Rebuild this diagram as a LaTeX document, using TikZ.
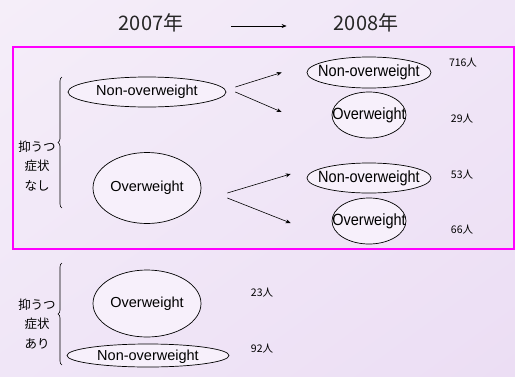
\documentclass[tikz,border=0pt]{standalone}
\usepackage{fontspec}
\setmainfont{Liberation Sans}
\newfontfamily\jpfont{Noto Sans CJK JP}
\usetikzlibrary{shapes.geometric,decorations.pathreplacing,arrows.meta,shadings}
\definecolor{bgA}{RGB}{245,238,249}
\definecolor{bgB}{RGB}{236,222,244}
\definecolor{bgC}{RGB}{240,230,247}
\definecolor{ellfill}{RGB}{247,240,251}
\definecolor{frame}{RGB}{255,0,255}
\tikzset{
  ell/.style={draw=black, line width=0.7pt, fill=ellfill, ellipse, inner sep=0pt},
  etext/.style={font=\fontsize{14.5}{16}\selectfont, inner sep=0pt},
  year/.style={font=\jpfont\fontsize{20}{22}\selectfont, text=black!85, inner sep=0pt},
  count/.style={font=\jpfont\fontsize{10.5}{12}\selectfont, inner sep=0pt},
  side/.style={font=\jpfont\fontsize{12.5}{19.5}\selectfont, align=center, inner sep=0pt},
  arr/.style={line width=0.6pt, -{Stealth[length=5pt,width=4pt]}},
  bracestyle/.style={line width=0.6pt, decorate, decoration={brace, amplitude=4pt}}
}
\begin{document}
\begin{tikzpicture}[x=1pt,y=-1pt]
\useasboundingbox (0,0) rectangle (515,376);
\shade[upper left=bgA, upper right=bgC, lower left=bgC, lower right=bgB] (0,0) rectangle (515,376);
% titles
\node[year] (y7) at (151,23) {2007年};
\node[year] (y8) at (366,23) {2008年};
\draw[arr] ([xshift=48pt,yshift=-3pt]y7.east) -- ([xshift=-47pt,yshift=-3pt]y8.west);
% frame
\draw[frame, line width=1.1pt] (13,47) rectangle (514,249);
% braces
\coordinate (b1t) at (62,77);
\coordinate (b1b) at (62,208);
\draw[bracestyle] (b1b) -- (b1t);
\coordinate (b2t) at (62,263);
\coordinate (b2b) at (62,365);
\draw[bracestyle] (b2b) -- (b2t);
\node[side] (s1) at (37,166) {抑うつ\\症状\\なし};
\node[side] (s2) at (37,324) {抑うつ\\症状\\あり};
% left ellipses
\node[ell, minimum width=158pt, minimum height=30pt] (a) at (147,92) {};
\node[etext] at (a) {Non-overweight};
\node[ell, minimum width=108pt, minimum height=71pt] (b) at (147,188) {};
\node[etext] at (b) {Overweight};
% right ellipses
\node[ell, minimum width=124pt, minimum height=31pt] (c) at (369,72.5) {};
\node[etext, yscale=1.12] at (c) {Non-overweight};
\node[ell, minimum width=74pt, minimum height=46pt] (d) at (369,115) {};
\node[etext, yscale=1.12] at (d) {Overweight};
\node[ell, minimum width=124pt, minimum height=30pt] (e) at (369,178) {};
\node[etext, yscale=1.12] at (e) {Non-overweight};
\node[ell, minimum width=74pt, minimum height=46pt] (f) at (369,221) {};
\node[etext, yscale=1.12] at (f) {Overweight};
% arrows
\draw[arr] ([xshift=9pt,yshift=5pt]a.east) -- ([xshift=-25pt]c.west);
\draw[arr] ([xshift=9pt]a.east) -- ([xshift=-50pt,yshift=3pt]d.west);
\draw[arr] ([xshift=26pt,yshift=-5pt]b.east) -- ([xshift=-16pt,yshift=4pt]e.west);
\draw[arr] ([xshift=26pt,yshift=-10pt]b.east) -- ([xshift=-41pt,yshift=-2pt]f.west);
% counts
\node[count] (n1) at (463,63) {716人};
\node[count] (n2) at (462,119) {29人};
\node[count] (n3) at (462,175) {53人};
\node[count] (n4) at (462,230) {66人};
% bottom group
\node[ell, minimum width=108pt, minimum height=67pt] (g) at (147,303.5) {};
\node[etext] at (g) {Overweight};
\node[ell, minimum width=162pt, minimum height=23pt] (h) at (148,355.5) {};
\node[etext] at ([yshift=-1.5pt]h.center) {Non-overweight};
\node[count] (n5) at (262,293) {23人};
\node[count] (n6) at (262,349) {92人};
\end{tikzpicture}
\end{document}
